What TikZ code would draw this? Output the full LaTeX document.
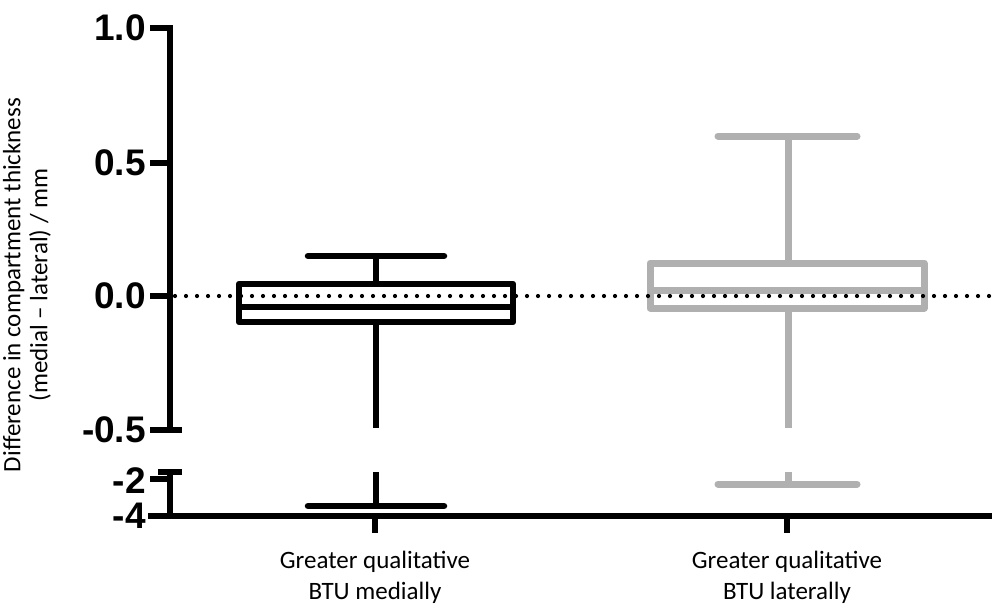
\documentclass[tikz,border=0pt]{standalone}
\usepackage{fontspec}
\setmainfont{Liberation Sans}
\newfontfamily\calib{Carlito}
\definecolor{boxgray}{RGB}{176,176,176}
\begin{document}
\begin{tikzpicture}[x=1pt,y=-1pt,
  axisline/.style={line width=6pt, black},
  blkline/.style={line width=6.5pt, black, line join=round},
  gryline/.style={line width=7pt, boxgray, line join=round},
  capline/.style={line cap=round},
  ticklab/.style={anchor=east, inner sep=0pt, font=\bfseries\fontsize{37}{37}\selectfont},
  catlab/.style={align=center, inner sep=0pt, font=\calib\fontsize{25}{31}\selectfont},
  zeroline/.style={line width=4.2pt, line cap=round, dash pattern=on 0pt off 11pt}]
\useasboundingbox (0,0) rectangle (992,606);
% axis coordinates
\coordinate (ytop) at (170,28);
\coordinate (ybrk) at (170,430);
\coordinate (ylow) at (170,472);
\coordinate (origin) at (170,516);
\coordinate (xend) at (992,516);
% y axis upper segment
\draw[axisline] (150,28) -- (ytop) -- (ybrk);
\draw[axisline] (150,163) -- (170,163);
\draw[axisline] (150,296) -- (170,296);
\draw[axisline] (150,430) -- (182,430);
% y axis lower segment
\draw[axisline] (158,472) -- (182,472);
\draw[axisline] (ylow) -- (origin);
\draw[axisline] (150,479) -- (170,479);
\draw[axisline] (148,516) -- (origin) -- (xend);
% x ticks
\draw[axisline] (375,516) -- (375,533);
\draw[axisline] (787,516) -- (787,533);
% tick labels
\node[ticklab] (t10) at (146,28) {1.0};
\node[ticklab] (t05) at (146,163) {0.5};
\node[ticklab] (t00) at (146,296) {0.0};
\node[ticklab] (tm05) at (146,430) {-0.5};
\node[ticklab] (tm2) at (146,481) {-2};
\node[ticklab] (tm4) at (146,516) {-4};
% box 1 (black)
\coordinate (b1top) at (376,284);
\coordinate (b1bot) at (376,322);
\draw[blkline] (239,284) rectangle (513,322);
\draw[blkline] (239,307) -- (513,307);
\draw[blkline] (b1top) -- (376,256);
\draw[blkline, capline] (308,256) -- (444,256);
\draw[blkline] (b1bot) -- (376,428);
\draw[blkline] (376,472) -- (376,506);
\draw[blkline, capline] (308,506) -- (444,506);
% box 2 (gray)
\coordinate (b2top) at (788,263);
\coordinate (b2bot) at (788,308);
\draw[gryline] (650,263) rectangle (924,308);
\draw[gryline] (650,290) -- (924,290);
\draw[gryline] (b2top) -- (788,136);
\draw[gryline, capline] (718,136) -- (857,136);
\draw[gryline] (b2bot) -- (788,428);
\draw[gryline] (788,472) -- (788,484);
\draw[gryline, capline] (718,484) -- (857,484);
% zero line
\coordinate (z0) at (175,296);
\coordinate (z1) at (992,296);
\draw[zeroline] (z0) -- (z1);
% axis title
\node[rotate=90, align=center, inner sep=0pt, font=\calib\fontsize{25}{27}\selectfont] (ytitle) at (27,285)
  {Difference in compartment thickness\\(medial – lateral) / mm};
% category labels
\node[catlab] (c1) at (375,577) {Greater qualitative\\BTU medially};
\node[catlab] (c2) at (787,577) {Greater qualitative\\BTU laterally};
\end{tikzpicture}
\end{document}
